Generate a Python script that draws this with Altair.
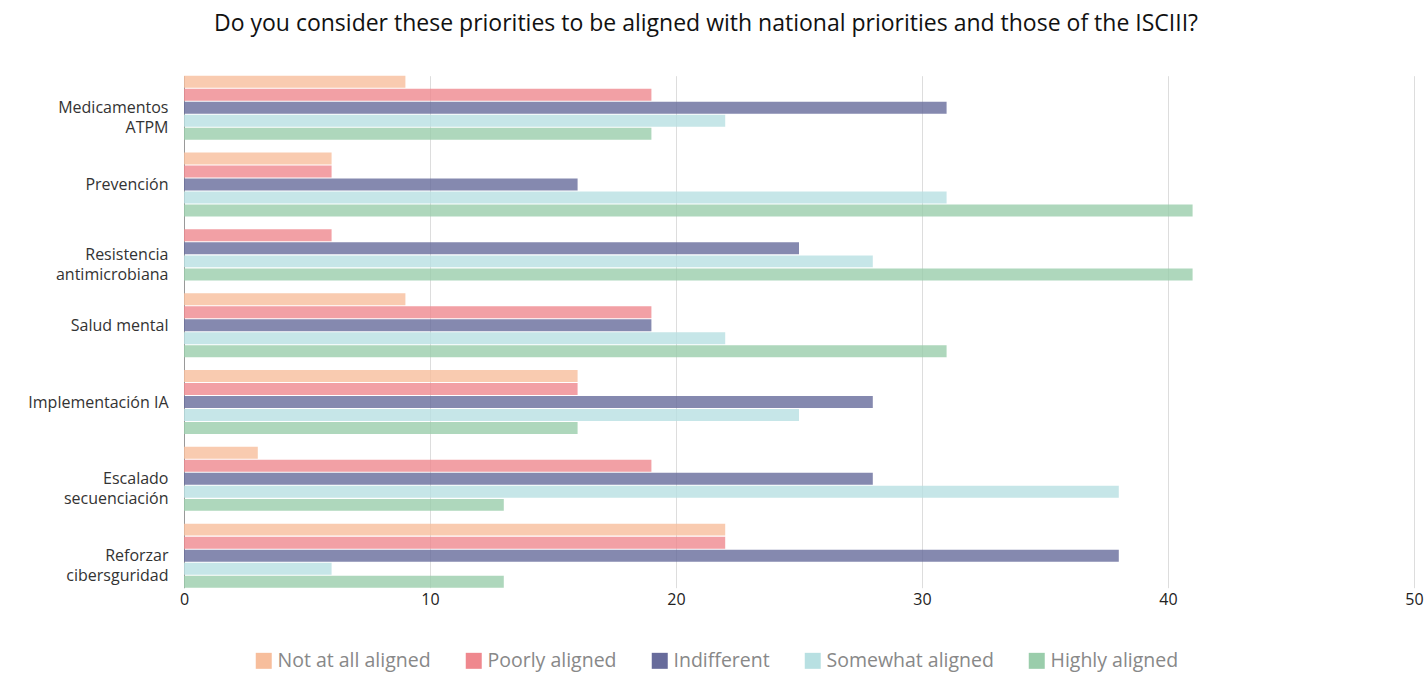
import json
import altair as alt
import pandas as pd

categories = ["Medicamentos|ATPM", "Prevención", "Resistencia|antimicrobiana", "Salud mental",
              "Implementación IA", "Escalado|secuenciación", "Reforzar|cibersguridad"]
series = ["Not at all aligned", "Poorly aligned", "Indifferent", "Somewhat aligned", "Highly aligned"]
not_at_all = [9, 6, 0, 9, 16, 3, 22]
poorly = [19, 6, 6, 19, 16, 19, 22]
indifferent = [31, 16, 25, 19, 28, 28, 38]
somewhat = [22, 31, 28, 22, 25, 38, 6]
highly = [19, 41, 41, 31, 16, 13, 13]
colors = ["#F7BE9C", "#EF888E", "#676B9B", "#B8E0E2", "#9ACDAB"]

# Groups are stacked: each category takes one slot per non-zero bar, plus a gap.
GAP = 0.9
BAR = 0.92
table = [not_at_all, poorly, indifferent, somewhat, highly]
rows, centers = [], []
cursor = 0.0
for ci, c in enumerate(categories):
    present = [(s, table[si][ci]) for si, s in enumerate(series) if table[si][ci] > 0]
    for j, (s, v) in enumerate(present):
        rows.append({"category": c, "series": s, "value": v, "x0": 0,
                     "y0": cursor + j, "y1": cursor + j + BAR})
    centers.append(round(cursor + (len(present) - (1 - BAR)) / 2, 3))
    cursor += len(present) + GAP
total = cursor - GAP - (1 - BAR)
df = pd.DataFrame(rows)

label_lines = [c.split("|") for c in categories]
label_expr = f"{json.dumps(label_lines, ensure_ascii=False)}[indexof({json.dumps(centers)}, datum.value)]"

FONT = "Open Sans"

chart = alt.Chart(df).mark_bar(opacity=0.8).encode(
    y=alt.Y("y0:Q", title=None,
            scale=alt.Scale(domain=[0, total], reverse=True, nice=False, zero=False),
            axis=alt.Axis(values=centers, labelExpr=label_expr, labelFontSize=16, labelColor="#333333",
                          labelFont=FONT, ticks=False, domainColor="#999999", labelPadding=16,
                          labelLineHeight=20, grid=False, labelOverlap=False, labelFlush=False)),
    y2="y1:Q",
    x=alt.X("x0:Q", title=None, scale=alt.Scale(domain=[0, 50]),
            axis=alt.Axis(values=[0, 10, 20, 30, 40, 50], labelFontSize=16, labelColor="#222222",
                          labelFont=FONT, ticks=False, domain=False, gridColor="#dddddd",
                          labelPadding=4, labelFlush=False)),
    x2="value:Q",
    color=alt.Color("series:N", sort=series, scale=alt.Scale(domain=series, range=colors),
                    legend=alt.Legend(title=None, orient="none", direction="horizontal", columns=5,
                                      legendX=70, legendY=575, symbolType="square", symbolSize=256,
                                      symbolOpacity=1, symbolStrokeWidth=0,
                                      labelFontSize=19.5, labelColor="#888888", labelFont=FONT,
                                      labelOffset=4, columnPadding=33, labelLimit=400)),
).properties(
    width=1230, height=512,
    title=alt.TitleParams("Do you consider these priorities to be aligned with national priorities and those of the ISCIII?",
                          fontSize=23, font=FONT, fontWeight="normal", color="#111111",
                          anchor="middle", dx=-93, offset=40),
    padding={"left": 184, "top": 75.7, "right": 14, "bottom": 86.3},
    autosize=alt.AutoSizeParams(type="none"),
).configure_view(stroke=None)

chart.save("out.html", embed_options={"renderer": "svg", "actions": False})
